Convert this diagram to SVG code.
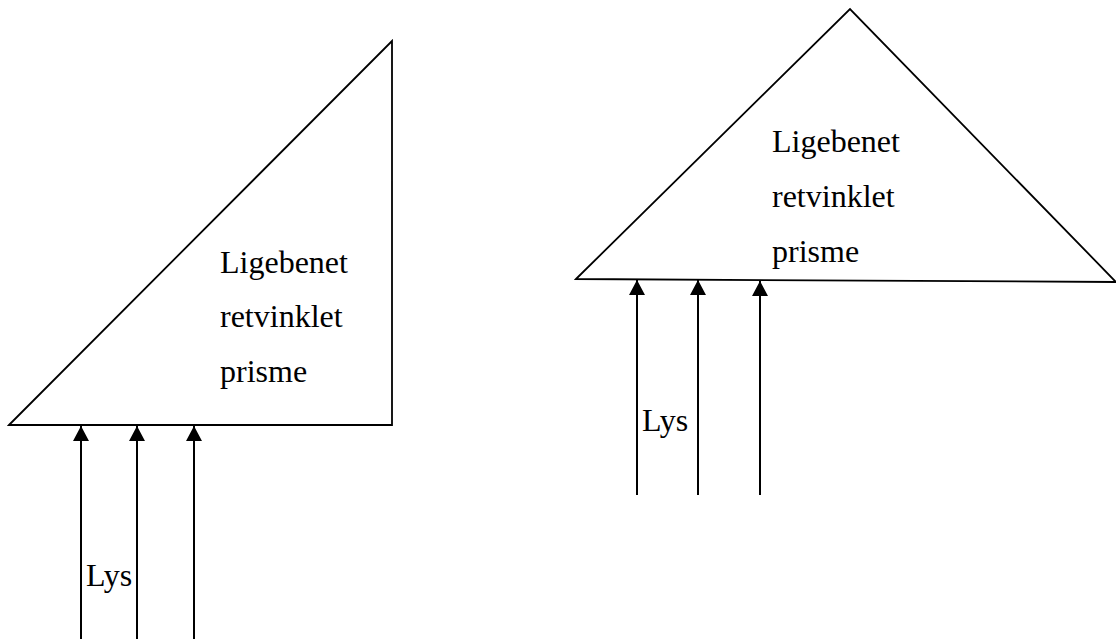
<svg xmlns="http://www.w3.org/2000/svg" width="1116" height="639" viewBox="0 0 1116 639">
<style>
.shape{fill:none;stroke:#000;stroke-width:1.8;stroke-linejoin:miter}
.ray{fill:none;stroke:#000;stroke-width:2}
.lbl{font-family:"Times New Roman","Liberation Serif",Times,serif;font-size:32px;fill:#000}
</style>
<defs>
<marker id="ah" viewBox="0 0 15 16" refX="15" refY="8" markerWidth="15" markerHeight="16" markerUnits="userSpaceOnUse" orient="auto">
<polygon points="0,0 15,8 0,16" fill="#000"/>
</marker>
</defs>
<rect width="1116" height="639" fill="#fff"/>
<g id="prism-left">
<polygon class="shape" points="9,425 392,41 392,425"/>
<text class="lbl" x="220" y="273">Ligebenet</text>
<text class="lbl" x="220" y="327">retvinklet</text>
<text class="lbl" x="220" y="382">prisme</text>
</g>
<g id="prism-right">
<polygon class="shape" points="576,279 850,9 1116,282"/>
<text class="lbl" x="772" y="152">Ligebenet</text>
<text class="lbl" x="772" y="207">retvinklet</text>
<text class="lbl" x="772" y="262">prisme</text>
</g>
<g id="light-left">
<text class="lbl" x="86" y="586">Lys</text>
</g>
<g id="light-right">
<text class="lbl" x="642" y="431">Lys</text>
</g>
<g id="connectors">
<line class="ray" x1="81" y1="639" x2="81" y2="426" marker-end="url(#ah)"/>
<line class="ray" x1="137" y1="639" x2="137" y2="426" marker-end="url(#ah)"/>
<line class="ray" x1="194" y1="639" x2="194" y2="426" marker-end="url(#ah)"/>
<line class="ray" x1="637" y1="495" x2="637" y2="280" marker-end="url(#ah)"/>
<line class="ray" x1="698" y1="495" x2="698" y2="280" marker-end="url(#ah)"/>
<line class="ray" x1="760" y1="495" x2="760" y2="281" marker-end="url(#ah)"/>
</g>
</svg>
